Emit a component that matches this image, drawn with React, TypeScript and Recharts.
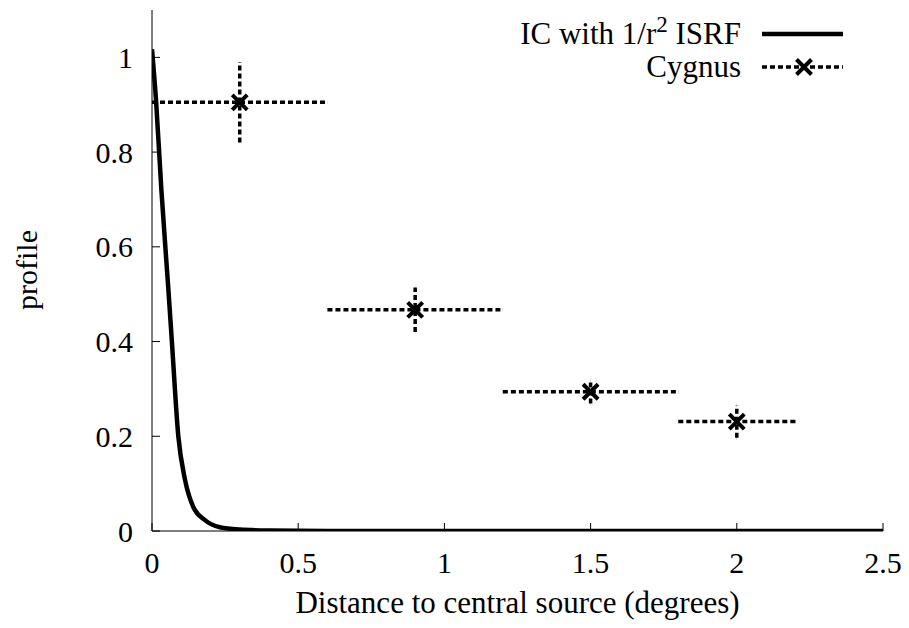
import React from 'react';
import { ComposedChart, Line, Scatter, XAxis, YAxis, ErrorBar, Label } from 'recharts';

// IC with 1/r^2 ISRF profile curve
const icX = [0, 0.014, 0.032, 0.056, 0.068, 0.09, 0.113, 0.141, 0.181, 0.232, 0.3, 0.4, 0.6, 1.0, 1.5, 2.0, 2.5];
const icY = [1.017, 0.907, 0.721, 0.51, 0.4, 0.2, 0.108, 0.051, 0.023, 0.008, 0.003, 0.001, 0, 0, 0, 0, 0];

// Cygnus data points
const cygX = [0.3, 0.9, 1.5, 2.0];
const cygY = [0.905, 0.467, 0.294, 0.231];
const cygXErr = [0.3, 0.3, 0.3, 0.2];
const cygYErr = [0.085, 0.047, 0.025, 0.034];

const xTicks = [0, 0.5, 1, 1.5, 2, 2.5];
const yTicks = [0, 0.2, 0.4, 0.6, 0.8, 1];

const icData = icX.map((x, i) => ({ x, y: icY[i] }));
const cygData = cygX.map((x, i) => ({ x, y: cygY[i], xerr: cygXErr[i], yerr: cygYErr[i] }));

const FONT = "'Liberation Serif', 'DejaVu Serif', serif";
const W = 909;
const H = 628;
const TICK_FS = 30;

const Cross = (props: any) => {
  const { cx, cy } = props;
  if (cx == null || cy == null) return null;
  const s = 7.5;
  return (
    <g>
      <line x1={cx - s} y1={cy - s} x2={cx + s} y2={cy + s} stroke="#000" strokeWidth={4} />
      <line x1={cx - s} y1={cy + s} x2={cx + s} y2={cy - s} stroke="#000" strokeWidth={4} />
    </g>
  );
};

const EmptyTick = () => <g />;

const LegendOverlay = () => (
  <svg width={W} height={100} style={{ position: 'absolute', left: 0, top: 0, pointerEvents: 'none' }}>
    <text x={741} y={44} textAnchor="end" fontFamily={FONT} fontSize={31} fill="#000">
      IC with 1/r<tspan dy={-12} fontSize={23}>2</tspan>
      <tspan dy={12}> ISRF</tspan>
    </text>
    <line x1={762} y1={34} x2={843} y2={34} stroke="#000" strokeWidth={4.5} />
    <text x={741} y={77} textAnchor="end" fontFamily={FONT} fontSize={31} fill="#000">Cygnus</text>
    <line x1={762} y1={67} x2={843} y2={67} stroke="#000" strokeWidth={3.5} strokeDasharray="5 3" />
    <Cross cx={804} cy={67} />
  </svg>
);

export default function App() {
  return (
    <div style={{ position: 'relative', width: W, height: H, background: '#fff' }}>
      <style>{'body{margin:0;background:#fff}'}</style>
      <ComposedChart
        width={W}
        height={H}
        margin={{ top: 10, right: 26, left: 0, bottom: 0 }}
        style={{ fontFamily: FONT }}
      >
        <XAxis
          xAxisId="b"
          type="number"
          dataKey="x"
          domain={[0, 2.5]}
          ticks={xTicks}
          allowDataOverflow
          height={97}
          tickSize={-8}
          tickMargin={29}
          stroke="#000"
          axisLine={{ stroke: '#000', strokeWidth: 1 }}
          tickLine={{ stroke: '#000', strokeWidth: 1 }}
          tick={{ fill: '#000', fontSize: TICK_FS, fontFamily: FONT }}
        >
          <Label
            content={(p: any) => {
              const vb = p.viewBox || { x: 152, width: 731 };
              return (
                <text x={vb.x + vb.width / 2} y={613} textAnchor="middle" fontFamily={FONT} fontSize={31} fill="#000">
                  Distance to central source (degrees)
                </text>
              );
            }}
          />
        </XAxis>
        <XAxis
          xAxisId="t"
          orientation="top"
          type="number"
          dataKey="x"
          domain={[0, 2.5]}
          ticks={xTicks}
          allowDataOverflow
          height={0}
          tickSize={-8}
          stroke="#000"
          axisLine={{ stroke: '#000', strokeWidth: 1 }}
          tickLine={{ stroke: '#000', strokeWidth: 1 }}
          tick={EmptyTick}
        />
        <YAxis
          yAxisId="l"
          type="number"
          dataKey="y"
          domain={[0, 1.1]}
          ticks={yTicks}
          allowDataOverflow
          width={152}
          tickSize={-8}
          tickMargin={27}
          stroke="#000"
          axisLine={{ stroke: '#000', strokeWidth: 1 }}
          tickLine={{ stroke: '#000', strokeWidth: 1 }}
          tick={{ fill: '#000', fontSize: TICK_FS, fontFamily: FONT }}
        >
          <Label
            content={() => (
              <text
                x={26}
                y={270}
                transform="rotate(-90 26 270)"
                textAnchor="middle"
                dominantBaseline="central"
                fontFamily={FONT}
                fontSize={30}
                fill="#000"
              >
                profile
              </text>
            )}
          />
        </YAxis>
        <YAxis
          yAxisId="r"
          orientation="right"
          type="number"
          dataKey="y"
          domain={[0, 1.1]}
          ticks={yTicks}
          allowDataOverflow
          width={0}
          tickSize={-8}
          stroke="#000"
          axisLine={{ stroke: '#000', strokeWidth: 1 }}
          tickLine={{ stroke: '#000', strokeWidth: 1 }}
          tick={EmptyTick}
        />
        <Line
          xAxisId="b"
          yAxisId="l"
          data={icData}
          dataKey="y"
          type="monotone"
          stroke="#000"
          strokeWidth={4.5}
          dot={false}
          activeDot={false}
          isAnimationActive={false}
        />
        <Scatter
          xAxisId="b"
          yAxisId="l"
          data={cygData}
          dataKey="y"
          shape={Cross}
          isAnimationActive={false}
        >
          <ErrorBar
            dataKey="xerr"
            direction="x"
            width={0}
            stroke="#000"
            strokeWidth={3.5}
            strokeDasharray="5 3"
            isAnimationActive={false}
          />
          <ErrorBar
            dataKey="yerr"
            direction="y"
            width={0}
            stroke="#000"
            strokeWidth={3.5}
            strokeDasharray="5 3"
            isAnimationActive={false}
          />
        </Scatter>
      </ComposedChart>
      <LegendOverlay />
    </div>
  );
}
